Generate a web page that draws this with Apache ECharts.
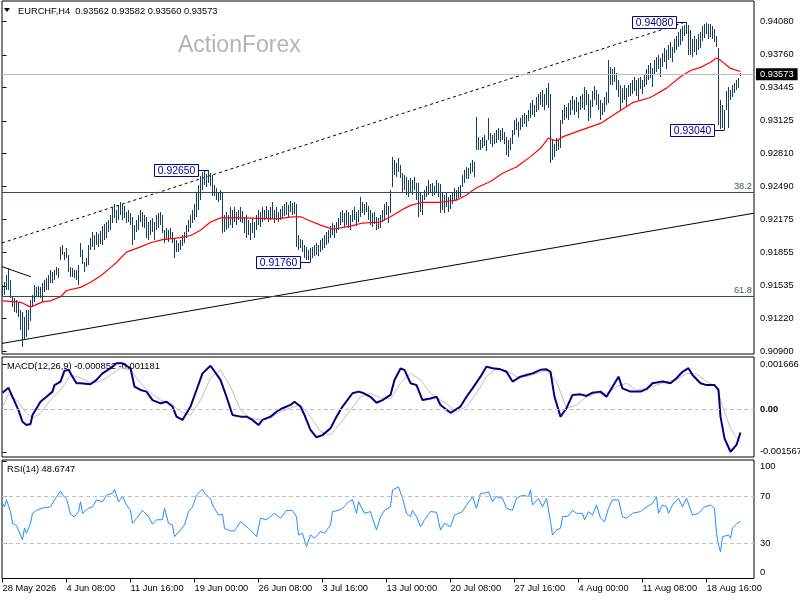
<!DOCTYPE html>
<html><head><meta charset="utf-8">
<script src="https://cdn.jsdelivr.net/npm/echarts@6/dist/echarts.min.js"></script>
<style>html,body{margin:0;padding:0;background:#fff}#c{width:800px;height:600px}</style>
</head><body><div id="c"></div>
<script>
const symbolName = 'EURCHF,H4';
const lastBar = [0.93562, 0.93582, 0.93560, 0.93573]; // open high low close
const highs = [
0.9154,0.9157,0.9164,0.9171,0.9159,0.9143,0.9142,0.9140,0.9137,0.9130,
0.9128,0.9123,0.9130,0.9130,0.9140,0.9145,0.9154,0.9152,0.9153,0.9152,
0.9156,0.9159,0.9161,0.9164,0.9169,0.9167,0.9169,0.9172,0.9171,0.9191,
0.9193,0.9186,0.9190,0.9183,0.9172,0.9171,0.9169,0.9169,0.9174,0.9195,
0.9188,0.9176,0.9180,0.9193,0.9200,0.9205,0.9202,0.9205,0.9203,0.9206,
0.9211,0.9213,0.9215,0.9217,0.9222,0.9229,0.9232,0.9227,0.9230,0.9234,
0.9232,0.9230,0.9225,0.9227,0.9224,0.9220,0.9212,0.9217,0.9222,0.9227,
0.9225,0.9222,0.9220,0.9215,0.9217,0.9219,0.9215,0.9222,0.9224,0.9225,
0.9222,0.9207,0.9209,0.9207,0.9209,0.9205,0.9200,0.9198,0.9195,0.9198,
0.9202,0.9205,0.9212,0.9217,0.9222,0.9227,0.9232,0.9244,0.9251,0.9259,
0.9263,0.9264,0.9261,0.9265,0.9262,0.9260,0.9251,0.9248,0.9244,0.9246,
0.9244,0.9222,0.9225,0.9222,0.9229,0.9227,0.9229,0.9225,0.9227,0.9229,
0.9226,0.9220,0.9222,0.9217,0.9214,0.9219,0.9215,0.9222,0.9227,0.9225,
0.9229,0.9227,0.9230,0.9227,0.9229,0.9234,0.9227,0.9229,0.9225,0.9228,
0.9230,0.9232,0.9234,0.9231,0.9235,0.9233,0.9234,0.9232,0.9202,0.9199,
0.9198,0.9193,0.9191,0.9188,0.9190,0.9191,0.9193,0.9195,0.9193,0.9198,
0.9200,0.9202,0.9205,0.9207,0.9211,0.9214,0.9212,0.9215,0.9219,0.9225,
0.9227,0.9224,0.9227,0.9225,0.9222,0.9227,0.9229,0.9225,0.9227,0.9239,
0.9234,0.9232,0.9234,0.9230,0.9227,0.9224,0.9225,0.9220,0.9219,0.9222,
0.9227,0.9232,0.9234,0.9230,0.9246,0.9278,0.9275,0.9272,0.9277,0.9270,
0.9262,0.9260,0.9258,0.9255,0.9257,0.9255,0.9258,0.9253,0.9253,0.9244,
0.9241,0.9246,0.9250,0.9255,0.9252,0.9253,0.9250,0.9255,0.9253,0.9252,
0.9243,0.9241,0.9244,0.9239,0.9241,0.9244,0.9248,0.9246,0.9249,0.9251,
0.9260,0.9265,0.9268,0.9267,0.9272,0.9275,0.9273,0.9316,0.9297,0.9294,
0.9297,0.9299,0.9294,0.9315,0.9301,0.9299,0.9301,0.9304,0.9306,0.9304,
0.9306,0.9302,0.9297,0.9294,0.9296,0.9304,0.9313,0.9315,0.9311,0.9315,
0.9318,0.9320,0.9318,0.9323,0.9330,0.9333,0.9328,0.9335,0.9338,0.9340,
0.9342,0.9338,0.9344,0.9349,0.9338,0.9294,0.9290,0.9296,0.9294,0.9313,
0.9323,0.9328,0.9326,0.9330,0.9333,0.9336,0.9333,0.9335,0.9331,0.9336,
0.9338,0.9345,0.9342,0.9338,0.9333,0.9341,0.9346,0.9342,0.9338,0.9333,
0.9330,0.9335,0.9340,0.9371,0.9364,0.9362,0.9364,0.9359,0.9352,0.9347,
0.9344,0.9347,0.9344,0.9347,0.9349,0.9352,0.9355,0.9352,0.9354,0.9355,
0.9352,0.9357,0.9362,0.9366,0.9368,0.9363,0.9371,0.9374,0.9376,0.9373,
0.9378,0.9383,0.9381,0.9386,0.9388,0.9384,0.9391,0.9394,0.9398,0.9401,
0.9404,0.9405,0.9408,0.9405,0.9400,0.9391,0.9394,0.9391,0.9396,0.9398,
0.9404,0.9406,0.9407,0.9406,0.9406,0.9404,0.9401,0.9394,0.9383,0.9333,
0.9328,0.9323,0.9341,0.9345,0.9342,0.9347,0.9349,0.9352,0.9354,0.93582
];
const lows = [
0.9143,0.9145,0.9149,0.9149,0.9142,0.9133,0.9128,0.9127,0.9123,0.9111,
0.9095,0.9101,0.9104,0.9111,0.9120,0.9133,0.9138,0.9143,0.9144,0.9142,
0.9138,0.9148,0.9149,0.9149,0.9156,0.9156,0.9159,0.9164,0.9161,0.9178,
0.9183,0.9178,0.9180,0.9167,0.9162,0.9162,0.9161,0.9159,0.9154,0.9181,
0.9175,0.9167,0.9172,0.9174,0.9188,0.9191,0.9188,0.9193,0.9191,0.9194,
0.9193,0.9198,0.9200,0.9205,0.9207,0.9214,0.9219,0.9214,0.9217,0.9222,
0.9217,0.9219,0.9214,0.9215,0.9212,0.9193,0.9198,0.9205,0.9207,0.9215,
0.9210,0.9209,0.9200,0.9198,0.9202,0.9205,0.9198,0.9207,0.9209,0.9212,
0.9204,0.9195,0.9198,0.9196,0.9200,0.9195,0.9180,0.9186,0.9186,0.9188,
0.9192,0.9195,0.9200,0.9205,0.9209,0.9214,0.9217,0.9220,0.9227,0.9236,
0.9246,0.9251,0.9249,0.9253,0.9250,0.9240,0.9240,0.9236,0.9234,0.9236,
0.9204,0.9205,0.9207,0.9209,0.9212,0.9209,0.9215,0.9212,0.9217,0.9215,
0.9214,0.9204,0.9200,0.9202,0.9198,0.9204,0.9200,0.9207,0.9212,0.9210,
0.9215,0.9217,0.9219,0.9215,0.9217,0.9219,0.9214,0.9217,0.9215,0.9217,
0.9219,0.9221,0.9222,0.9220,0.9225,0.9222,0.9223,0.9191,0.9188,0.9190,
0.9186,0.9180,0.9178,0.9178,0.9176,0.9180,0.9182,0.9183,0.9182,0.9186,
0.9188,0.9190,0.9193,0.9195,0.9200,0.9202,0.9200,0.9204,0.9207,0.9212,
0.9215,0.9210,0.9212,0.9209,0.9207,0.9215,0.9217,0.9211,0.9215,0.9220,
0.9224,0.9222,0.9225,0.9217,0.9212,0.9210,0.9213,0.9207,0.9208,0.9209,
0.9215,0.9217,0.9222,0.9214,0.9224,0.9249,0.9260,0.9258,0.9263,0.9257,
0.9243,0.9246,0.9241,0.9239,0.9244,0.9241,0.9246,0.9236,0.9220,0.9225,
0.9222,0.9236,0.9239,0.9241,0.9243,0.9240,0.9241,0.9244,0.9239,0.9224,
0.9227,0.9224,0.9229,0.9225,0.9228,0.9232,0.9236,0.9236,0.9238,0.9239,
0.9249,0.9253,0.9256,0.9256,0.9261,0.9263,0.9258,0.9284,0.9284,0.9284,
0.9286,0.9288,0.9283,0.9294,0.9290,0.9287,0.9290,0.9291,0.9294,0.9292,
0.9294,0.9290,0.9280,0.9278,0.9284,0.9290,0.9299,0.9304,0.9297,0.9304,
0.9307,0.9309,0.9307,0.9312,0.9315,0.9318,0.9316,0.9321,0.9323,0.9328,
0.9326,0.9323,0.9328,0.9325,0.9272,0.9275,0.9278,0.9283,0.9284,0.9286,
0.9309,0.9313,0.9315,0.9313,0.9318,0.9323,0.9318,0.9321,0.9315,0.9323,
0.9325,0.9323,0.9328,0.9312,0.9315,0.9326,0.9333,0.9328,0.9323,0.9313,
0.9318,0.9321,0.9328,0.9330,0.9347,0.9347,0.9350,0.9342,0.9335,0.9323,
0.9330,0.9333,0.9326,0.9335,0.9336,0.9338,0.9341,0.9336,0.9333,0.9343,
0.9338,0.9345,0.9347,0.9352,0.9354,0.9345,0.9357,0.9360,0.9362,0.9355,
0.9364,0.9369,0.9362,0.9371,0.9373,0.9369,0.9378,0.9381,0.9384,0.9386,
0.9389,0.9394,0.9396,0.9376,0.9376,0.9374,0.9379,0.9376,0.9381,0.9383,
0.9389,0.9392,0.9396,0.9391,0.9393,0.9391,0.9388,0.9384,0.9308,0.9305,
0.9306,0.9304,0.9323,0.9306,0.9333,0.9335,0.9339,0.9342,0.9344,0.93560
];
const maPoints = [[0,0.9139],[7,0.9138],[10,0.9137],[14,0.9133],[20,0.9138],[24,0.9139],[29,0.9143],[32,0.9149],[39,0.9152],[44,0.9157],[49,0.9163],[54,0.9171],[57,0.9176],[62,0.9186],[69,0.9191],[74,0.9195],[80,0.9198],[89,0.9200],[94,0.9202],[99,0.9207],[104,0.9215],[109,0.9219],[120,0.9219],[137,0.9218],[145,0.9220],[149,0.9220],[154,0.9216],[159,0.9212],[165,0.9208],[174,0.9211],[180,0.9214],[189,0.9215],[194,0.9220],[200,0.9227],[204,0.9231],[210,0.9234],[219,0.9234],[227,0.9236],[232,0.9241],[237,0.9248],[244,0.9254],[250,0.9262],[257,0.9268],[264,0.9278],[269,0.9286],[273,0.9296],[277,0.9293],[280,0.9297],[290,0.9304],[299,0.9310],[307,0.9320],[315,0.9330],[324,0.9335],[332,0.9344],[339,0.9355],[344,0.9361],[349,0.9364],[354,0.9369],[357,0.9373],[359,0.9371],[362,0.9366],[364,0.9363],[369,0.9360]];
const macdPoints = [[0,0.00061],[3,0.00079],[5,0.00046],[8,-0.00003],[10,-0.00046],[12,-0.00058],[14,-0.00054],[15,-0.00021],[19,0.00028],[22,0.00046],[25,0.00065],[26,0.00089],[29,0.00102],[31,0.00142],[33,0.00145],[35,0.00120],[37,0.00096],[39,0.00096],[40,0.00089],[44,0.00092],[47,0.00108],[50,0.00132],[54,0.00151],[57,0.00169],[60,0.00169],[64,0.00151],[66,0.00083],[69,0.00071],[72,0.00065],[75,0.00034],[79,0.00022],[82,0.00028],[85,0.00010],[87,-0.00027],[90,-0.00039],[91,-0.00033],[94,0.00010],[97,0.00071],[100,0.00132],[104,0.00160],[105,0.00157],[109,0.00108],[112,0.00046],[115,-0.00021],[119,-0.00027],[122,-0.00027],[125,-0.00039],[128,-0.00058],[130,-0.00039],[134,-0.00027],[137,-0.00009],[140,0.00004],[144,0.00016],[146,0.00028],[149,0.00010],[151,-0.00021],[154,-0.00076],[157,-0.00103],[160,-0.00095],[164,-0.00070],[167,-0.00027],[170,0.00010],[175,0.00059],[178,0.00065],[180,0.00061],[184,0.00046],[187,0.00024],[190,0.00034],[194,0.00053],[196,0.00108],[199,0.00150],[201,0.00145],[204,0.00096],[207,0.00089],[210,0.00034],[214,0.00040],[217,0.00046],[219,0.00016],[224,-0.00013],[225,-0.00015],[229,0.00010],[232,0.00046],[235,0.00077],[239,0.00120],[242,0.00157],[245,0.00151],[249,0.00147],[252,0.00138],[255,0.00102],[259,0.00120],[262,0.00126],[265,0.00132],[269,0.00145],[272,0.00147],[274,0.00138],[276,0.00046],[279,-0.00027],[282,0.00004],[285,0.00053],[289,0.00055],[292,0.00049],[295,0.00061],[299,0.00065],[302,0.00046],[305,0.00083],[308,0.00120],[310,0.00077],[314,0.00065],[319,0.00065],[322,0.00074],[325,0.00096],[330,0.00102],[334,0.00096],[337,0.00114],[340,0.00138],[343,0.00151],[345,0.00126],[349,0.00096],[352,0.00089],[356,0.00089],[358,0.00071],[359,-0.00027],[361,-0.00107],[364,-0.00156],[365,-0.00150],[367,-0.00131],[369,-0.000852]];
const signalPoints = [[0,0.00008],[3,0.00056],[7,0.00034],[12,-0.00014],[15,-0.00032],[19,-0.00014],[24,0.00034],[29,0.00071],[34,0.00126],[39,0.00115],[44,0.00097],[49,0.00102],[54,0.00126],[59,0.00152],[64,0.00145],[69,0.00097],[74,0.00060],[79,0.00034],[84,0.00023],[89,-0.00009],[94,-0.00021],[99,0.00034],[104,0.00115],[109,0.00145],[114,0.00083],[119,-0.00003],[124,-0.00032],[129,-0.00039],[134,-0.00032],[139,-0.00009],[144,0.00005],[149,0.00016],[154,-0.00027],[159,-0.00082],[164,-0.00095],[169,-0.00050],[174,-0.00003],[179,0.00046],[184,0.00059],[189,0.00042],[194,0.00038],[199,0.00096],[204,0.00132],[209,0.00108],[214,0.00059],[219,0.00034],[224,0.00010],[227,-0.00009],[232,0.00010],[237,0.00059],[242,0.00120],[247,0.00151],[252,0.00142],[257,0.00120],[262,0.00120],[267,0.00132],[272,0.00142],[277,0.00102],[282,0.00004],[287,0.00016],[292,0.00046],[297,0.00059],[302,0.00059],[307,0.00083],[312,0.00096],[317,0.00071],[322,0.00077],[327,0.00089],[332,0.00102],[337,0.00108],[342,0.00132],[347,0.00130],[352,0.00102],[357,0.00083],[360,0.00010],[364,-0.00070],[367,-0.00105],[369,-0.001181]];
const rsiPoints = [[0,64],[1,61],[2,67],[4,57],[5,47],[7,45],[8,41],[10,33],[11,43],[12,38.5],[14,47],[15,55.5],[17,58],[20,60],[21,59],[24,61],[26,67],[29,74.5],[30,71],[32,68],[34,54.7],[36,52.6],[38,57],[39,65.4],[40,55.5],[43,59.8],[45,61],[47,67],[50,65.4],[52,71],[55,72.6],[56,76],[58,65.4],[60,69.7],[62,62.6],[64,58],[65,47],[67,51],[70,58],[73,52.6],[75,46.4],[77,50],[80,50],[81,59.8],[83,47],[85,45.6],[86,35.6],[89,41.3],[91,45.6],[93,57],[95,61],[97,71],[100,76],[101,72.6],[104,68.3],[105,62.6],[108,54],[110,54.7],[111,42.8],[114,40.5],[116,40.5],[119,48.4],[121,45.6],[124,41.3],[127,35.6],[129,51.3],[132,50],[136,55.5],[139,51.3],[142,58],[145,58],[147,52.6],[148,37],[150,38.5],[152,27],[154,37],[156,34.3],[159,40],[161,38.5],[164,45.6],[165,57],[168,58],[170,59.8],[173,65.4],[175,67],[177,55.5],[178,65.4],[181,55.5],[184,57],[185,51.3],[187,41.3],[189,52.6],[191,58],[194,61],[195,75.4],[198,78],[200,68.3],[202,55.5],[204,52.6],[205,58],[207,52.6],[209,44.1],[211,50],[214,57],[217,56.4],[219,41.3],[221,47],[224,44.1],[226,54],[230,57],[232,62.6],[234,67],[235,69.7],[237,59.8],[239,72.6],[241,72.6],[243,74],[245,65.4],[247,69.7],[250,68.3],[252,59.8],[255,58],[257,68.3],[260,71],[263,69.7],[264,75.4],[265,62.6],[268,68.3],[270,61],[272,68.3],[274,48.4],[275,37],[277,41.3],[279,42.8],[280,52.6],[283,53.2],[285,58],[287,55.5],[290,55.5],[291,50],[293,57],[295,54],[297,62.6],[299,51.3],[301,48.4],[303,59.8],[305,67],[308,67],[310,52.6],[312,51.3],[315,55.5],[319,57],[321,59.8],[325,64],[327,69.7],[328,55.5],[330,62.6],[332,61],[333,55.5],[335,62.6],[338,68.3],[340,61],[342,68.3],[345,54],[348,55.5],[351,61],[354,62.6],[356,59.8],[357,38.5],[358,28.5],[359,22.8],[360,35.6],[363,37],[364,34.3],[365,42.8],[367,46.5],[369,48.6747]];
const dateLabels = ['28 May 2026','4 Jun 08:00','11 Jun 16:00','19 Jun 00:00','26 Jun 08:00','3 Jul 16:00','13 Jul 00:00','20 Jul 08:00','27 Jul 16:00','4 Aug 00:00','11 Aug 08:00','18 Aug 16:00'];
const dateLabelIdx = [0,32,64,96,128,160,192,224,256,288,320,352];
const priceTicks = [0.90900,0.91220,0.91535,0.91855,0.92175,0.92490,0.92810,0.93125,0.93445,0.93760,0.94080];
const macdTicks = [0.001666, 0, -0.001567];
const rsiTicks = [100, 70, 30, 0];
const rsiLevels = [70, 30];
const fibLevels = [0.92436, 0.91437];
const fibNames = ['38.2', '61.8'];
const upperTrend = [[-0.25, 0.91948], [342, 0.94080]];
const lowerTrend = [[-0.25, 0.90980], [375.75, 0.92235]];
const oldTrend = [[-0.25, 0.91720], [14.2, 0.91622]];
const pivots = [[103, 0.92650], [154, 0.91760], [342, 0.94080], [361, 0.93040]];

const FONT = 'Liberation Sans';
const FS = 9.3;
const X_MIN = -0.25, X_MAX = 375.75;
const bars = highs.map((h, i) => [i, h, lows[i]]);
const lastClose = lastBar[3];
const lastMacd = macdPoints[macdPoints.length - 1][1];
const lastSignal = signalPoints[signalPoints.length - 1][1];
const lastRsi = rsiPoints[rsiPoints.length - 1][1];

const chart = echarts.init(document.getElementById('c'), null, {renderer: 'canvas'});

function xAx(idx, show) {
  return {
    type: 'value', gridIndex: idx, min: X_MIN, max: X_MAX, show: true,
    axisLine: {show: false}, splitLine: {show: false},
    axisTick: show ? {show: true, customValues: dateLabelIdx, length: 4, inside: false, lineStyle: {color: '#000'}} : {show: false},
    axisLabel: show ? {
      show: true, customValues: dateLabelIdx, align: 'left', margin: 5,
      color: '#000', fontFamily: FONT, fontSize: FS,
      formatter: v => { const k = dateLabelIdx.indexOf(Math.round(v)); return k >= 0 ? dateLabels[k] : ''; }
    } : {show: false}
  };
}
function yAx(idx, min, max, ticks, fmt, rich) {
  return {
    type: 'value', gridIndex: idx, position: 'right', min: min, max: max, scale: true,
    axisLine: {show: false}, splitLine: {show: false},
    axisTick: {show: true, customValues: ticks, length: 4, lineStyle: {color: '#000'}},
    axisLabel: {show: true, customValues: ticks, margin: 6, color: '#000', fontFamily: FONT, fontSize: FS, formatter: fmt, rich: rich || {}}
  };
}
const gridBase = {left: 2, width: 752, show: true, borderColor: '#000', borderWidth: 1, backgroundColor: '#fff', containLabel: false, outerBoundsMode: 'none'};

const option = {
  animation: false,
  backgroundColor: '#fff',
  textStyle: {fontFamily: FONT},
  grid: [
    Object.assign({top: 1, height: 353}, gridBase),
    Object.assign({top: 357, height: 100}, gridBase),
    Object.assign({top: 460, height: 118.5}, gridBase)
  ],
  xAxis: [xAx(0, false), xAx(1, false), xAx(2, true)],
  yAxis: [
    yAx(0, 0.908780, 0.942795, priceTicks, v => v.toFixed(5)),
    yAx(1, -0.001754, 0.001923, macdTicks, v => Math.abs(v) < 1e-9 ? '{b|0.00}' : v.toFixed(6), {b: {fontWeight: 'bold', fontFamily: FONT, fontSize: FS, color: '#000'}}),
    yAx(2, 0, 100.9, rsiTicks, v => v === 100 ? '{d|100}' : (v === 0 ? '{u|0}' : String(v)),
      {d: {padding: [11, 0, 0, 0], fontFamily: FONT, fontSize: FS, color: '#000'}, u: {padding: [0, 0, 12, 0], fontFamily: FONT, fontSize: FS, color: '#000'}})
  ],
  series: [
    {
      name: 'lowerTrend', type: 'line', xAxisIndex: 0, yAxisIndex: 0, data: lowerTrend, showSymbol: false, silent: true,
      lineStyle: {color: '#000', width: 1}, z: 2,
      markLine: {
        silent: true, symbol: ['none', 'none'], animation: false, precision: 6,
        data: fibLevels.map((lv, k) => ({
          yAxis: lv, lineStyle: {color: '#2f4f4f', type: 'solid', width: 1},
          label: {show: true, formatter: fibNames[k], position: 'insideEndTop', distance: [2, 1], color: '#3e5a66', fontFamily: FONT, fontSize: FS}
        })).concat([{
          yAxis: lastClose, lineStyle: {color: '#c0c0c0', type: 'solid', width: 1},
          label: {show: true, formatter: lastClose.toFixed(5), position: 'end', distance: 2, color: '#fff', backgroundColor: '#000', padding: [2, 4, 1, 4], fontFamily: FONT, fontSize: FS}
        }])
      }
    },
    {name: 'upperTrend', type: 'line', xAxisIndex: 0, yAxisIndex: 0, data: upperTrend, showSymbol: false, silent: true, lineStyle: {color: '#000', width: 1, type: [3, 3]}, z: 2},
    {name: 'oldTrend', type: 'line', xAxisIndex: 0, yAxisIndex: 0, data: oldTrend, showSymbol: false, silent: true, lineStyle: {color: '#000', width: 1}, z: 2},
    {
      name: 'bars', type: 'custom', xAxisIndex: 0, yAxisIndex: 0, data: bars, silent: true, z: 3,
      encode: {x: 0, y: [1, 2]},
      renderItem: (params, api) => {
        const i = api.value(0);
        const a = api.coord([i, api.value(1)]);
        const b = api.coord([i, api.value(2)]);
        const x = Math.round(a[0] - 0.5) + 0.5;
        let y1 = Math.round(a[1]), y2 = Math.round(b[1]);
        if (y2 - y1 < 2) y2 = y1 + 2;
        return {type: 'line', shape: {x1: x, y1: y1, x2: x, y2: y2}, style: {stroke: '#163f5e', lineWidth: 1}};
      }
    },
    {name: 'MA', type: 'line', xAxisIndex: 0, yAxisIndex: 0, data: maPoints, showSymbol: false, silent: true, lineStyle: {color: '#ff0000', width: 1.2}, z: 4},
    {
      name: 'pivots', type: 'custom', xAxisIndex: 0, yAxisIndex: 0, data: pivots, silent: true, z: 6,
      encode: {x: 0, y: 1},
      renderItem: (params, api) => {
        const p = api.coord([api.value(0), api.value(1)]);
        const x = Math.round(p[0] - 0.5) + 0.5;
        const y = Math.round(p[1]) + 0.5;
        const bw = 44, bh = 12, gap = 10;
        return {type: 'group', children: [
          {type: 'line', shape: {x1: x - gap, y1: y, x2: x, y2: y}, style: {stroke: '#00008b', lineWidth: 1}},
          {type: 'rect', shape: {x: x - gap - bw, y: y - bh / 2, width: bw, height: bh}, style: {fill: '#fff', stroke: '#00008b', lineWidth: 1}},
          {type: 'text', x: x - gap - bw / 2, y: y + 0.5, style: {text: api.value(1).toFixed(5), fill: '#00008b', font: '10.4px "' + FONT + '"', align: 'center', verticalAlign: 'middle'}}
        ]};
      }
    },
    {
      name: 'Signal', type: 'line', xAxisIndex: 1, yAxisIndex: 1, data: signalPoints, showSymbol: false, silent: true,
      lineStyle: {color: '#c0c0c0', width: 1}, z: 3,
      markLine: {silent: true, symbol: ['none', 'none'], animation: false, precision: 6, label: {show: false},
        data: [{yAxis: 0, lineStyle: {color: '#c0c0c0', type: [4, 3], width: 1}}]}
    },
    {name: 'MACD', type: 'line', xAxisIndex: 1, yAxisIndex: 1, data: macdPoints, showSymbol: false, silent: true, lineStyle: {color: '#000080', width: 2}, z: 4},
    {
      name: 'RSI', type: 'line', xAxisIndex: 2, yAxisIndex: 2, data: rsiPoints, showSymbol: false, silent: true,
      lineStyle: {color: '#1e90ff', width: 1}, z: 4,
      markLine: {silent: true, symbol: ['none', 'none'], animation: false, label: {show: false},
        data: rsiLevels.map(l => ({yAxis: l, lineStyle: {color: '#c0c0c0', type: [4, 3], width: 1}}))}
    }
  ],
  graphic: [
    {type: 'polygon', shape: {points: [[4, 8], [10, 8], [7, 12]]}, style: {fill: '#000'}, silent: true},
    {type: 'text', x: 18, y: 11, silent: true, style: {text: symbolName + '  ' + lastBar.map(v => v.toFixed(5)).join(' '), fill: '#000', font: FS + 'px "' + FONT + '"', verticalAlign: 'middle'}},
    {type: 'text', x: 178, y: 46, silent: true, style: {text: 'ActionForex', fill: '#b4b4b4', font: '23px "' + FONT + '"', verticalAlign: 'middle'}},
    {type: 'text', x: 7, y: 366, silent: true, style: {text: 'MACD(12,26,9) ' + lastMacd.toFixed(6) + ' ' + lastSignal.toFixed(6), fill: '#000', font: FS + 'px "' + FONT + '"', verticalAlign: 'middle'}},
    {type: 'text', x: 7, y: 469, silent: true, style: {text: 'RSI(14) ' + lastRsi.toFixed(4), fill: '#000', font: FS + 'px "' + FONT + '"', verticalAlign: 'middle'}}
  ]
};
chart.setOption(option);
</script>
</body></html>
